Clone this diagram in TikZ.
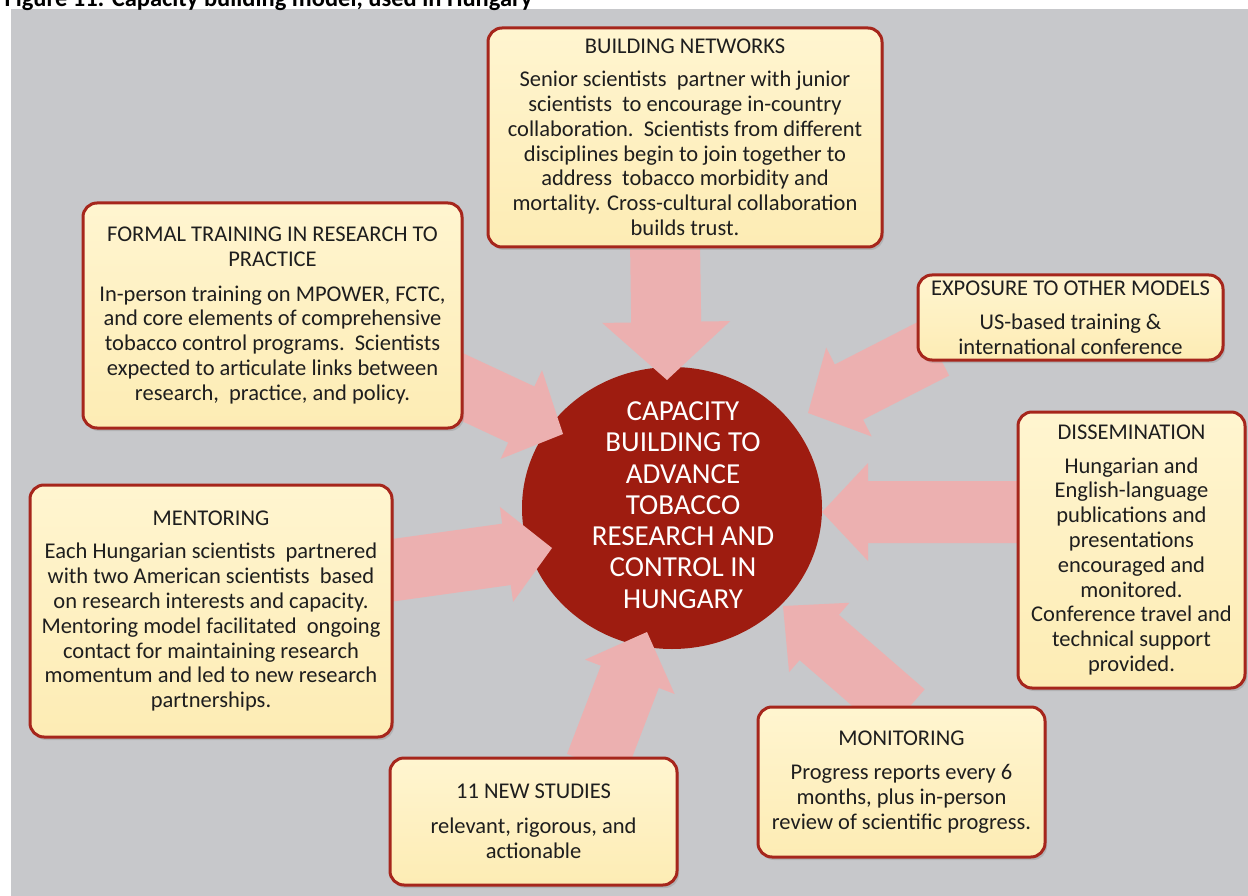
\documentclass[tikz,border=0pt]{standalone}
\usepackage{fontspec}
\setmainfont{Carlito}
\usetikzlibrary{calc,positioning,shapes.geometric,shadows}
\definecolor{panelgray}{RGB}{199,200,203}
\definecolor{boxedge}{RGB}{166,38,28}
\definecolor{boxtop}{RGB}{255,245,208}
\definecolor{boxbot}{RGB}{253,236,180}
\definecolor{hubred}{RGB}{158,28,16}
\definecolor{arrowpink}{RGB}{236,176,176}
\definecolor{inktext}{RGB}{30,30,30}
\pgfdeclarelayer{back}
\pgfdeclarelayer{arrows}
\pgfsetlayers{back,arrows,main}
\newcommand\pinkarrow[5]{% tail, tip, shaft half, head half, head length
  \coordinate (hb) at ($(#2)!#5pt!(#1)$);
  \fill[arrowpink] ($(#1)!#3pt!90:(#2)$) -- ($(hb)!#3pt!90:(#2)$) -- ($(hb)!#4pt!90:(#2)$) -- (#2)
    -- ($(hb)!#4pt!-90:(#2)$) -- ($(hb)!#3pt!-90:(#2)$) -- ($(#1)!#3pt!-90:(#2)$) -- cycle;}

\begin{document}
\begin{tikzpicture}[x=1pt,y=-1pt,
  box/.style={draw=boxedge,line width=3pt,rounded corners=14pt,top color=boxtop,bottom color=boxbot,
    drop shadow={opacity=0.3,shadow xshift=2pt,shadow yshift=-3pt},
    align=center,text=inktext,inner sep=0pt,font=\fontsize{22.5}{24.8}\selectfont},
  hub/.style={ellipse,fill=hubred,minimum width=300pt,minimum height=282pt,inner sep=0pt},
  hubtext/.style={text=white,align=center,font=\fontsize{29}{31.3}\selectfont}]
\useasboundingbox (0,0) rectangle (1248,896);
\node[anchor=base west,font=\bfseries\fontsize{24.5}{28}\selectfont] (caption) at (1,7)
  {Figure 11: Capacity building model, used in Hungary};
\begin{pgfonlayer}{back}
\fill[panelgray] (11,9) rectangle (1248,896);
\node[hub] (hub) at (672,508) {};
\node[hubtext] (hubtext) at ($(hub.center)+(11,-3)$)
  {CAPACITY\\BUILDING TO\\ADVANCE\\TOBACCO\\RESEARCH AND\\CONTROL IN\\HUNGARY};
\end{pgfonlayer}

\node[box,minimum width=394pt,minimum height=219pt] (networks) at (685,137.5)
  {BUILDING NETWORKS\\[8pt]Senior scientists\ \ partner with junior\\scientists\ \ to encourage in-country\\collaboration.\ \ Scientists from different\\disciplines begin to join together to\\address\ \ tobacco morbidity and\\mortality. Cross-cultural collaboration\\builds trust.};
\node[box,minimum width=379pt,minimum height=225pt] (training) at (272.5,315.5)
  {FORMAL TRAINING IN RESEARCH TO\\PRACTICE\\[10pt]In-person training on MPOWER, FCTC,\\and core elements of comprehensive\\tobacco control programs.\ \ Scientists\\expected to articulate links between\\research,\ \ practice, and policy.};
\node[box,minimum width=305pt,minimum height=85pt] (exposure) at (1070.5,317.5)
  {EXPOSURE TO OTHER MODELS\\[9pt]US-based training \&\\international conference};
\node[box,minimum width=227pt,minimum height=276pt] (dissem) at (1131.5,550)
  {DISSEMINATION\\[9pt]Hungarian and\\English-language\\publications and\\presentations\\encouraged and\\monitored.\\Conference travel and\\technical support\\provided.};
\node[box,minimum width=362pt,minimum height=252pt] (mentor) at (211,611)
  {MENTORING\\[9pt]Each Hungarian scientists\ \ partnered\\with two American scientists\ \ based\\on research interests and capacity.\\Mentoring model facilitated\ \ ongoing\\contact for maintaining research\\momentum and led to new research\\partnerships.};
\node[box,minimum width=287pt,minimum height=127pt] (studies) at (533.5,821.5)
  {11 NEW STUDIES\\[10pt]relevant, rigorous, and\\actionable};
\node[box,minimum width=287pt,minimum height=150pt] (monitor) at (901.5,782)
  {MONITORING\\[10pt]Progress reports every 6\\months, plus in-person\\review of scientific progress.};

\coordinate (out1) at (665,240);  \coordinate (in1) at (667,380);
\coordinate (out2) at (430,372);  \coordinate (in2) at (563,434);
\coordinate (out3) at (935,348);  \coordinate (in3) at (808,413);
\coordinate (out4) at (1030,512); \coordinate (in4) at (822,512);
\coordinate (out5) at (905,712);  \coordinate (in5) at (783,606);
\coordinate (out6) at (596,765);  \coordinate (in6) at (647,632);
\coordinate (out7) at (380,572);  \coordinate (in7) at (552,548);
\begin{pgfonlayer}{arrows}
\pinkarrow{out1}{in1}{35}{64}{58}
\pinkarrow{out2}{in2}{31}{49}{46}
\pinkarrow{out3}{in3}{31}{50}{46}
\pinkarrow{out4}{in4}{31}{49}{46}
\pinkarrow{out5}{in5}{30}{46}{48}
\pinkarrow{out6}{in6}{31}{48}{48}
\pinkarrow{out7}{in7}{31}{48}{46}
\end{pgfonlayer}
\end{tikzpicture}
\end{document}
